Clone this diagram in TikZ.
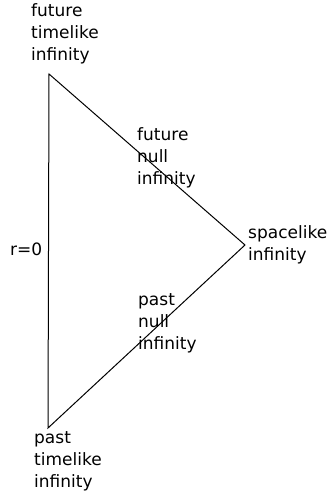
\documentclass[tikz,border=0pt]{standalone}
\usepackage{fontspec}
\setmainfont{DejaVu Sans}
\begin{document}
\begin{tikzpicture}[x=1pt,y=1pt,
  lbl/.style={anchor=base west,inner sep=0pt,font=\fontsize{17}{22}\selectfont},
  edge/.style={line width=1pt,black}]
\useasboundingbox (0,0) rectangle (331,493);
\coordinate (top) at (49,419);
\coordinate (right) at (245,248);
\coordinate (bot) at (48,65);
\draw[edge] (top) -- (right) -- (bot) -- cycle;
\node[lbl] (fti) at (31,476) {\begin{tabular}[t]{@{}l@{}}future\\timelike\\infinity\end{tabular}};
\node[lbl] (fni) at (137,352) {\begin{tabular}[t]{@{}l@{}}future\\null\\infinity\end{tabular}};
\node[lbl] (si) at (248,254) {\begin{tabular}[t]{@{}l@{}}spacelike\\infinity\end{tabular}};
\node[lbl] (r0) at (10,237) {r=0};
\node[lbl] (pni) at (138,187) {\begin{tabular}[t]{@{}l@{}}past\\null\\infinity\end{tabular}};
\node[lbl] (pti) at (34,49) {\begin{tabular}[t]{@{}l@{}}past\\timelike\\infinity\end{tabular}};
\end{tikzpicture}
\end{document}
